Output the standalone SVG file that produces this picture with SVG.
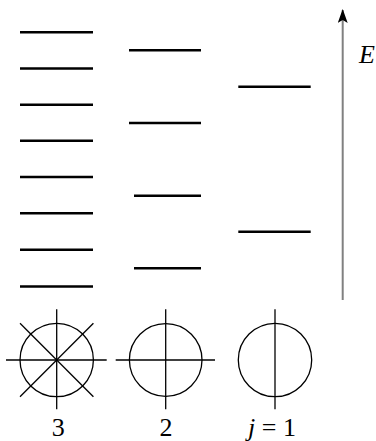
<svg xmlns="http://www.w3.org/2000/svg" width="376" height="441" viewBox="0 0 376 441">
<style>
.lvl{stroke:#000;stroke-width:2.6;fill:none}
.sym{stroke:#000;stroke-width:1.3;fill:none}
.lab{font-family:"Liberation Serif","Times New Roman",serif;font-size:26px;fill:#000}
.it{font-style:italic}
</style>
<defs>
<marker id="ah" markerWidth="14" markerHeight="10" refX="13" refY="5" orient="auto" markerUnits="userSpaceOnUse" viewBox="0 0 14 10">
<path d="M14,5 L0,0 L3,5 L0,10 Z" fill="#000"/>
</marker>
</defs>
<rect width="376" height="441" fill="#fff"/>
<g id="levels-j3" class="lvl">
<line x1="20" y1="32.3" x2="93" y2="32.3"/>
<line x1="20" y1="68.5" x2="93" y2="68.5"/>
<line x1="20" y1="104.7" x2="93" y2="104.7"/>
<line x1="20" y1="140.8" x2="93" y2="140.8"/>
<line x1="20" y1="177" x2="93" y2="177"/>
<line x1="20" y1="213.2" x2="93" y2="213.2"/>
<line x1="20" y1="249.7" x2="93" y2="249.7"/>
<line x1="20" y1="286.5" x2="93" y2="286.5"/>
</g>
<g id="levels-j2" class="lvl">
<line x1="129" y1="50.3" x2="201" y2="50.3"/>
<line x1="129" y1="123" x2="201" y2="123"/>
<line x1="134" y1="195.7" x2="201" y2="195.7"/>
<line x1="134" y1="268.3" x2="201" y2="268.3"/>
</g>
<g id="levels-j1" class="lvl">
<line x1="238.3" y1="86.7" x2="310.7" y2="86.7"/>
<line x1="238.3" y1="231.7" x2="310.7" y2="231.7"/>
</g>
<g id="connectors">
<line x1="342.7" y1="300" x2="342.7" y2="10" stroke="#808080" stroke-width="2" marker-end="url(#ah)"/>
</g>
<g id="axis-label">
<text class="lab it" x="359" y="63">E</text>
</g>
<g id="symbol-j3" class="sym">
<circle cx="56.7" cy="360" r="36.7"/>
<line x1="6" y1="360" x2="106.7" y2="360"/>
<line x1="56.7" y1="309.3" x2="56.7" y2="409.3"/>
<line x1="20" y1="323.3" x2="93.4" y2="396.7"/>
<line x1="20" y1="396.7" x2="93.4" y2="323.3"/>
</g>
<g id="symbol-j2" class="sym">
<circle cx="165.7" cy="360" r="36.3"/>
<line x1="115.7" y1="360" x2="215" y2="360"/>
<line x1="165.7" y1="309.3" x2="165.7" y2="409.3"/>
</g>
<g id="symbol-j1" class="sym">
<circle cx="275" cy="360" r="36.7"/>
<line x1="275" y1="309.3" x2="275" y2="409.3"/>
</g>
<g id="labels">
<text class="lab" x="58.3" y="435.5" text-anchor="middle">3</text>
<text class="lab" x="166" y="435.5" text-anchor="middle">2</text>
<text class="lab" x="248" y="435.5"><tspan class="it">j</tspan> = 1</text>
</g>
</svg>
